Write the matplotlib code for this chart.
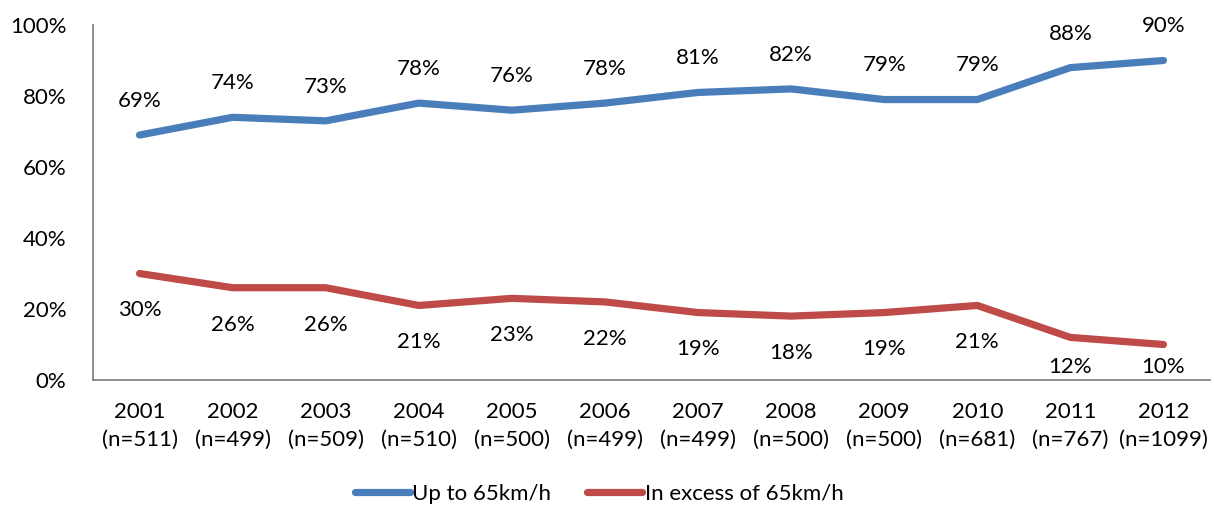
import matplotlib.pyplot as plt
from matplotlib.ticker import FuncFormatter

plt.rcParams['font.family'] = ['Lato', 'DejaVu Sans']

# Data
years = ['2001', '2002', '2003', '2004', '2005', '2006',
         '2007', '2008', '2009', '2010', '2011', '2012']
sample_sizes = [511, 499, 509, 510, 500, 499, 499, 500, 500, 681, 767, 1099]
up_to_65 = [69, 74, 73, 78, 76, 78, 81, 82, 79, 79, 88, 90]
over_65 = [30, 26, 26, 21, 23, 22, 19, 18, 19, 21, 12, 10]

blue = '#4A7EBB'
red = '#BE4B48'
fs = 16

fig = plt.figure(figsize=(12.14, 5.09), dpi=100)
ax = fig.add_axes([93 / 1214, 129 / 509, 1117 / 1214, 355 / 509])

x = list(range(len(years)))
ax.plot(x, up_to_65, color=blue, lw=5.2, solid_capstyle='round',
        solid_joinstyle='round', label='Up to 65km/h')
ax.plot(x, over_65, color=red, lw=5.2, solid_capstyle='round',
        solid_joinstyle='round', label='In excess of 65km/h')

# data labels: above the blue line, below the red one (kept inside the plot)
for i in x:
    ax.annotate(f'{up_to_65[i]}%', (i, up_to_65[i] + 9.6), ha='center', va='center',
                fontsize=fs)
    ax.annotate(f'{over_65[i]}%', (i, max(over_65[i] - 10.4, 3.7)), ha='center',
                va='center', fontsize=fs)

ax.set_xlim(-0.5, len(years) - 0.5)
ax.set_ylim(0, 100)
ax.set_yticks([0, 20, 40, 60, 80, 100])
ax.yaxis.set_major_formatter(FuncFormatter(lambda v, p: f'{v:.0f}%'))
ax.set_xticks(x)
ax.set_xticklabels([f'{y}\n(n={n})' for y, n in zip(years, sample_sizes)],
                   linespacing=1.45)
ax.tick_params(axis='both', length=0, labelsize=fs)
ax.tick_params(axis='x', pad=16)
ax.tick_params(axis='y', pad=19)

for s in ['top', 'right']:
    ax.spines[s].set_visible(False)
for s in ['left', 'bottom']:
    ax.spines[s].set_color('#868686')
    ax.spines[s].set_linewidth(1.3)

fig.legend(loc='center', bbox_to_anchor=(0.5 - 8 / 1214, 15 / 509), ncol=2,
           frameon=False, fontsize=fs, handlelength=2.5, handletextpad=0.1,
           columnspacing=1.6)

fig.savefig('out.png', dpi=100)
